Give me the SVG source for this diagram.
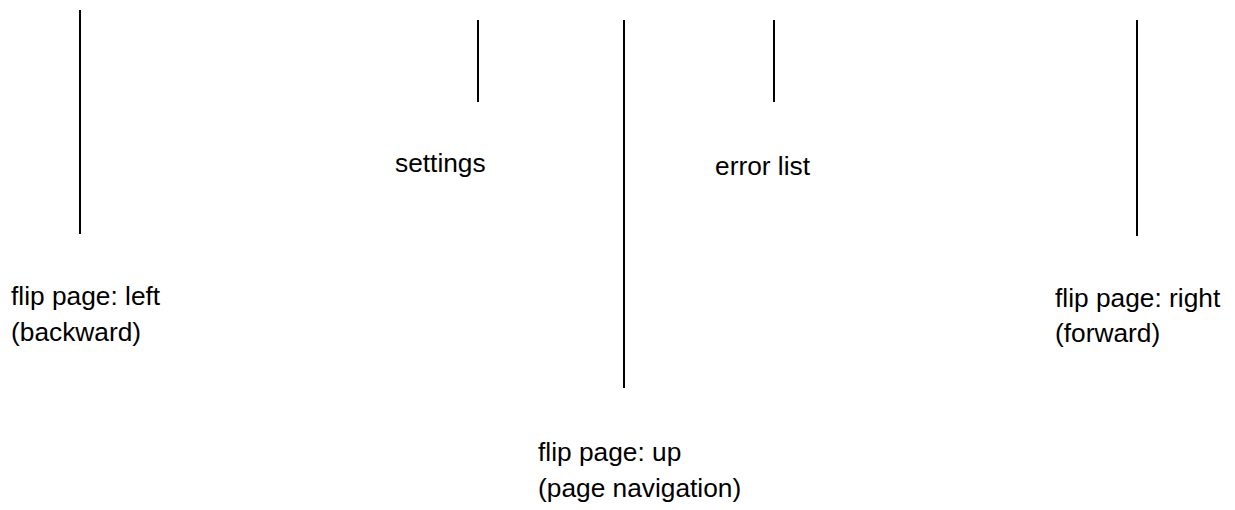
<svg xmlns="http://www.w3.org/2000/svg" width="1235" height="510" viewBox="0 0 1235 510">
  <style>
    .stem { stroke: #000; stroke-width: 2; fill: none; }
    .label { font-family: "Liberation Sans", Arial, sans-serif; font-size: 26.3px; fill: #000; }
  </style>
  <rect width="1235" height="510" fill="#fff"/>
  <!-- vertical pointer lines -->
  <g id="connectors">
    <line class="stem" x1="80" y1="10" x2="80" y2="234"/>
    <line class="stem" x1="478" y1="20" x2="478" y2="102"/>
    <line class="stem" x1="624" y1="20" x2="624" y2="388"/>
    <line class="stem" x1="774" y1="20" x2="774" y2="102"/>
    <line class="stem" x1="1137" y1="20" x2="1137" y2="236"/>
  </g>
  <g id="flip-left">
    <text class="label" x="11" y="305">flip page: left</text>
    <text class="label" x="11" y="341">(backward)</text>
  </g>
  <g id="settings">
    <text class="label" x="395" y="172">settings</text>
  </g>
  <g id="error-list">
    <text class="label" x="715" y="175">error list</text>
  </g>
  <g id="flip-up">
    <text class="label" x="538" y="461">flip page: up</text>
    <text class="label" x="538" y="497">(page navigation)</text>
  </g>
  <g id="flip-right">
    <text class="label" x="1055" y="307">flip page: right</text>
    <text class="label" x="1055" y="342">(forward)</text>
  </g>
</svg>
